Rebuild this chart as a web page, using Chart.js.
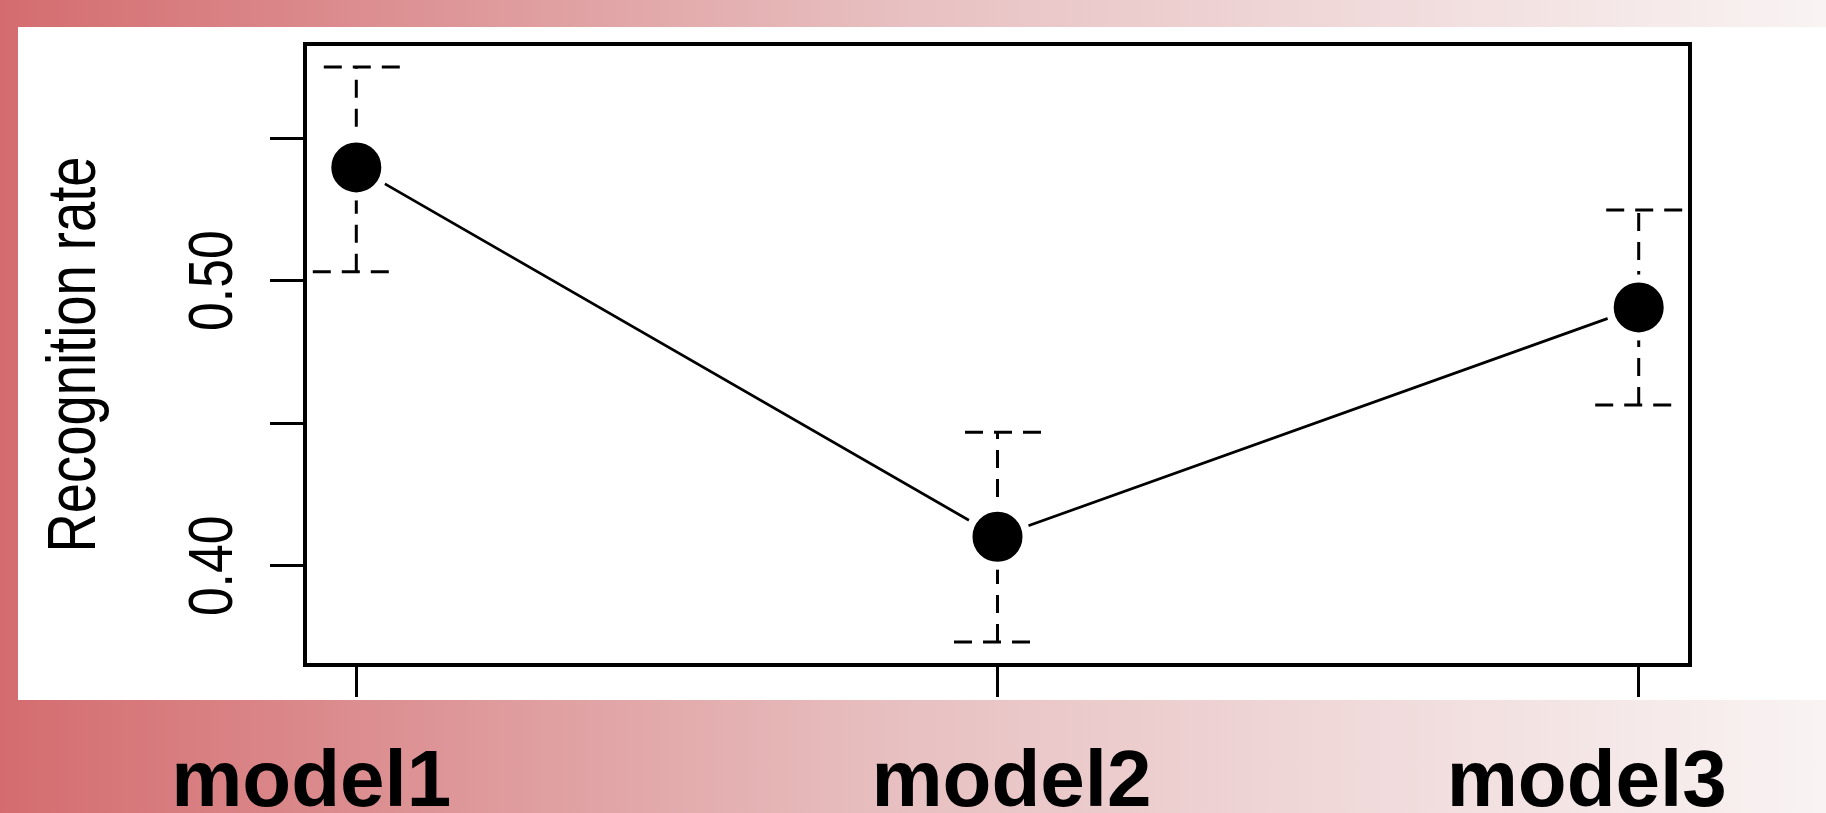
<!DOCTYPE html>
<html>
<head>
<meta charset="utf-8">
<title>Recognition rate by model</title>
<script src="https://cdn.jsdelivr.net/npm/chart.js@4.4.1/dist/chart.umd.min.js"></script>
<style>
    html, body { margin: 0; padding: 0; background: #fff; }
    #slide {
        position: relative;
        width: 1826px;
        height: 813px;
        overflow: hidden;
        background: linear-gradient(to right, #d46c6f 0%, #e8c1c2 50%, #f9f3f3 100%);
    }
    #panel {
        position: absolute;
        left: 18px;
        top: 27px;
        width: 1808px;
        height: 673px;
        background: #fff;
    }
    #chart { position: absolute; left: 0; top: 0; display: block; }
    .model-label {
        position: absolute;
        width: 400px;
        text-align: center;
        font-family: 'Liberation Sans', Arial, sans-serif;
        font-weight: bold;
        font-size: 80px;
        line-height: 90px;
        color: #000;
        white-space: nowrap;
    }
</style>
</head>
<body>
<div id="slide">
    <div id="panel"></div>
    <canvas id="chart" width="1826" height="813"></canvas>
</div>
<script>
const categories = ['model1', 'model2', 'model3'];
const rateMean = [0.5397, 0.4102, 0.4906];
const rateLower = [0.5031, 0.3733, 0.4564];
const rateUpper = [0.5749, 0.4468, 0.5248];
const yTickValues = [0.40, 0.45, 0.50, 0.55];
const yTickLabels = ['0.40', '', '0.50', ''];
const yTitle = 'Recognition rate';

// slide text boxes sit a little off the tick marks
const labelOffsetX = [-45, 14, -52];

// the plot was stretched sideways on the slide, so the upright axis text looks narrow
const tickFont = "63px 'Liberation Sans', Arial, sans-serif";
const titleFont = "68px 'Liberation Sans', Arial, sans-serif";
const tickSqueeze = 0.82;
const titleSqueeze = 0.80;

// R style axis limits: data range widened by 4% on each side
const yLo = Math.min(...rateLower);
const yHi = Math.max(...rateUpper);
const yPad = (yHi - yLo) * 0.04;
const xPad = (categories.length - 1) * 0.04;

const errorBars = {
    id: 'errorBars',
    beforeDatasetsDraw(chart) {
        const { ctx, scales: { x, y } } = chart;
        const half = 43.5;
        ctx.save();
        ctx.strokeStyle = '#000';
        ctx.lineWidth = 3;
        ctx.lineCap = 'butt';
        ctx.setLineDash([18, 11]);
        categories.forEach((c, i) => {
            const px = x.getPixelForValue(i + 1);
            const lo = y.getPixelForValue(rateLower[i]);
            const hi = y.getPixelForValue(rateUpper[i]);
            ctx.beginPath();
            ctx.moveTo(px, lo);
            ctx.lineTo(px, hi);
            ctx.stroke();
            ctx.beginPath();
            ctx.moveTo(px - half, lo);
            ctx.lineTo(px + half, lo);
            ctx.stroke();
            ctx.beginPath();
            ctx.moveTo(px + half, hi);
            ctx.lineTo(px - half, hi);
            ctx.stroke();
        });
        ctx.restore();
    }
};

const plotBox = {
    id: 'plotBox',
    afterDatasetsDraw(chart) {
        const { ctx, chartArea: a } = chart;
        ctx.save();
        ctx.strokeStyle = '#000';
        ctx.lineWidth = 4;
        ctx.strokeRect(a.left, a.top, a.right - a.left, a.bottom - a.top);
        ctx.restore();
    }
};

// y tick labels and axis title, written upwards like R does
const axisText = {
    id: 'axisText',
    afterDraw(chart) {
        const { ctx, chartArea: a, scales: { y } } = chart;
        const drawUp = (text, bx, by, squeeze) => {
            ctx.save();
            ctx.translate(bx, by);
            ctx.rotate(-Math.PI / 2);
            ctx.scale(squeeze, 1);
            ctx.fillText(text, 0, 0);
            ctx.restore();
        };
        ctx.save();
        ctx.fillStyle = '#000';
        ctx.textAlign = 'center';
        ctx.textBaseline = 'alphabetic';
        ctx.font = tickFont;
        yTickValues.forEach((v, i) => {
            if (yTickLabels[i]) drawUp(yTickLabels[i], a.left - 73, y.getPixelForValue(v), tickSqueeze);
        });
        ctx.font = titleFont;
        drawUp(yTitle, a.left - 210, (a.top + a.bottom) / 2, titleSqueeze);
        ctx.restore();
    }
};

const chart = new Chart(document.getElementById('chart'), {
    type: 'line',
    data: {
        datasets: [{
            label: yTitle,
            data: categories.map((c, i) => ({ x: i + 1, y: rateMean[i] })),
            borderColor: '#000',
            borderWidth: 2.8,
            tension: 0,
            pointRadius: 29,
            pointBorderWidth: 8,
            pointBackgroundColor: '#000',
            pointBorderColor: '#fff',
            clip: false
        }]
    },
    options: {
        responsive: false,
        animation: false,
        events: [],
        layout: { padding: { top: 44, right: 136, left: 0, bottom: 0 } },
        plugins: {
            legend: { display: false },
            tooltip: { enabled: false }
        },
        scales: {
            x: {
                type: 'linear',
                bounds: 'data',
                min: 1 - xPad,
                max: categories.length + xPad,
                afterBuildTicks: (s) => { s.ticks = categories.map((c, i) => ({ value: i + 1 })); },
                ticks: { display: false },
                grid: { drawOnChartArea: false, drawTicks: true, tickLength: 32, tickWidth: 3, tickColor: '#000' },
                border: { display: false },
                afterFit: (s) => { s.height = 148; }
            },
            y: {
                type: 'linear',
                bounds: 'data',
                min: yLo - yPad,
                max: yHi + yPad,
                afterBuildTicks: (s) => { s.ticks = yTickValues.map(v => ({ value: v })); },
                ticks: { display: false },
                grid: { drawOnChartArea: false, drawTicks: true, tickLength: 35, tickWidth: 3, tickColor: '#000' },
                border: { display: false },
                afterFit: (s) => {
                    s.width = 305;
                    s.paddingTop = 0;
                    s.paddingBottom = 0;
                }
            }
        }
    },
    plugins: [errorBars, plotBox, axisText]
});

// category names as slide text below the plot
const slide = document.getElementById('slide');
categories.forEach((name, i) => {
    const el = document.createElement('div');
    el.className = 'model-label';
    el.textContent = name;
    const cx = chart.scales.x.getPixelForValue(i + 1) + labelOffsetX[i];
    el.style.left = (cx - 200) + 'px';
    el.style.top = '734px';
    slide.appendChild(el);
});
</script>
</body>
</html>
